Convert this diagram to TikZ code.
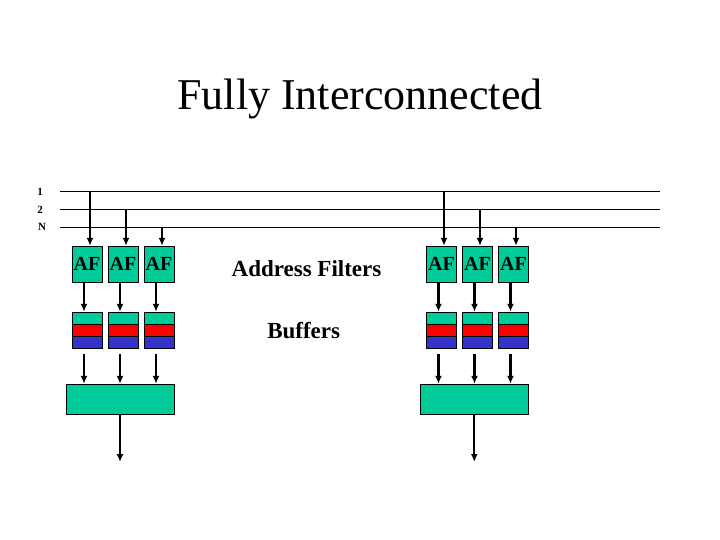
\documentclass[tikz,border=0pt]{standalone}
\usepackage{fontspec}
\setmainfont{Liberation Serif}
\usepackage{tikz}
\usetikzlibrary{arrows.meta,positioning,calc}
\definecolor{afteal}{RGB}{0,204,153}
\definecolor{bufred}{RGB}{255,0,0}
\definecolor{bufblue}{RGB}{51,51,204}

\begin{document}
\begin{tikzpicture}[x=1pt,y=-1pt,
    filt/.style={draw, fill=afteal, minimum width=30pt, minimum height=36pt, inner sep=0pt,
        font=\fontsize{20}{20}\selectfont\bfseries},
    buf/.style={draw, fill=afteal, minimum width=30pt, minimum height=36pt, inner sep=0pt,
        path picture={
            \fill[bufred] ([yshift=-12pt]path picture bounding box.north west) rectangle ([yshift=-6pt]path picture bounding box.east);
            \fill[bufblue] (path picture bounding box.south west) rectangle ([yshift=-6pt]path picture bounding box.east);
            \draw ([yshift=-12pt]path picture bounding box.north west) -- ([yshift=-12pt]path picture bounding box.north east);
            \draw ([yshift=-6pt]path picture bounding box.west) -- ([yshift=-6pt]path picture bounding box.east);
        }},
    merge/.style={draw, fill=afteal, minimum width=108pt, minimum height=30pt, inner sep=0pt},
    bus/.style={line width=1pt},
    arr/.style={line width=2.2pt, -{Latex[length=8pt,width=7pt]}},
    lbl/.style={font=\fontsize{11}{11}\selectfont\bfseries}]
    \useasboundingbox (0,0) rectangle (720,540);

    % Title
    \node[anchor=base, font=\fontsize{44}{44}\selectfont] (title) at (360,110) {Fully Interconnected};

    % Bus lines
    \node[lbl] (lbl1) at (40,192) {1};
    \node[lbl] (lbl2) at (40,210) {2};
    \node[lbl] (lblN) at (42,227) {N};
    \coordinate (b1w) at (60,192); \coordinate (b1e) at (660,192);
    \coordinate (b2w) at (60,210); \coordinate (b2e) at (660,210);
    \coordinate (bNw) at (60,228); \coordinate (bNe) at (660,228);
    \draw[bus] (b1w) -- (b1e);
    \draw[bus] (b2w) -- (b2e);
    \draw[bus] (bNw) -- (bNe);

    % Left port
    \node[filt] (afL1) at (87,264) {AF};
    \node[filt] (afL2) at (123,264) {AF};
    \node[filt] (afL3) at (159,264) {AF};
    \node[buf] (bufL1) at (87,330) {};
    \node[buf] (bufL2) at (123,330) {};
    \node[buf] (bufL3) at (159,330) {};
    \node[merge] (outL) at (120,399) {};
    \coordinate (tapL1) at (90,192);
    \coordinate (tapL2) at (126,210);
    \coordinate (tapL3) at (162,228);
    \coordinate (endL) at (120,462);

    % Right port
    \node[filt] (afR1) at (441.5,264) {AF};
    \node[filt] (afR2) at (477.5,264) {AF};
    \node[filt] (afR3) at (513.5,264) {AF};
    \node[buf] (bufR1) at (441.5,330) {};
    \node[buf] (bufR2) at (477.5,330) {};
    \node[buf] (bufR3) at (513.5,330) {};
    \node[merge] (outR) at (474.3,399) {};
    \coordinate (tapR1) at (444,192);
    \coordinate (tapR2) at (480,210);
    \coordinate (tapR3) at (516,228);
    \coordinate (endR) at (474.3,462);

    % Labels
    \node[anchor=base, font=\fontsize{23}{23}\selectfont\bfseries] (addr) at (306.5,276) {Address Filters};
    \node[anchor=base, font=\fontsize{23}{23}\selectfont\bfseries] (bufs) at (303.7,338) {Buffers};

    % Arrows, left
    \draw[arr] (tapL1) -- (tapL1 |- afL1.north);
    \draw[arr] (tapL2) -- (tapL2 |- afL2.north);
    \draw[arr] (tapL3) -- (tapL3 |- afL3.north);
    \draw[arr] ([xshift=-3pt]afL1.south) -- ([xshift=-3pt]bufL1.north);
    \draw[arr] ([xshift=-3pt]afL2.south) -- ([xshift=-3pt]bufL2.north);
    \draw[arr] ([xshift=-3pt]afL3.south) -- ([xshift=-3pt]bufL3.north);
    \draw[arr, shorten <=6pt] ([xshift=-3pt]bufL1.south) -- ([xshift=-3pt]bufL1.south |- outL.north);
    \draw[arr, shorten <=6pt] ([xshift=-3pt]bufL2.south) -- ([xshift=-3pt]bufL2.south |- outL.north);
    \draw[arr, shorten <=6pt] ([xshift=-3pt]bufL3.south) -- ([xshift=-3pt]bufL3.south |- outL.north);
    \draw[arr] (outL.south) -- (endL);

    % Arrows, right
    \draw[arr] (tapR1) -- (tapR1 |- afR1.north);
    \draw[arr] (tapR2) -- (tapR2 |- afR2.north);
    \draw[arr] (tapR3) -- (tapR3 |- afR3.north);
    \draw[arr] ([xshift=-3pt]afR1.south) -- ([xshift=-3pt]bufR1.north);
    \draw[arr] ([xshift=-3pt]afR2.south) -- ([xshift=-3pt]bufR2.north);
    \draw[arr] ([xshift=-3pt]afR3.south) -- ([xshift=-3pt]bufR3.north);
    \draw[arr, shorten <=6pt] ([xshift=-3pt]bufR1.south) -- ([xshift=-3pt]bufR1.south |- outR.north);
    \draw[arr, shorten <=6pt] ([xshift=-3pt]bufR2.south) -- ([xshift=-3pt]bufR2.south |- outR.north);
    \draw[arr, shorten <=6pt] ([xshift=-3pt]bufR3.south) -- ([xshift=-3pt]bufR3.south |- outR.north);
    \draw[arr] (outR.south) -- (endR);
\end{tikzpicture}
\end{document}
